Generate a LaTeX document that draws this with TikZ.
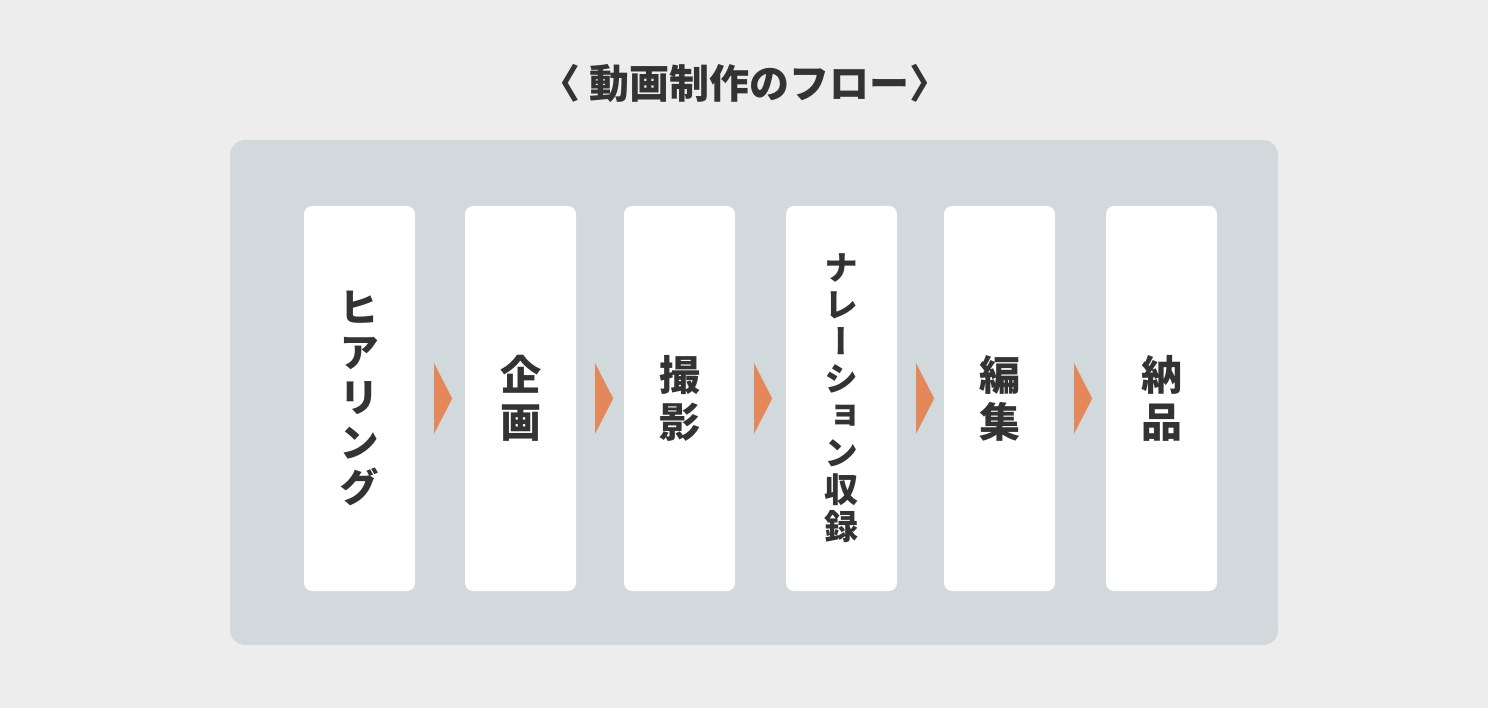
\documentclass[tikz,border=0pt]{standalone}
\usepackage{fontspec}
\newfontfamily\jpfont{Noto Sans CJK JP}
\newfontfamily\jpvert[RawFeature=+vert]{Noto Sans CJK JP}
\definecolor{pagegray}{HTML}{EDEDED}
\definecolor{panelgray}{HTML}{D1D9DC}
\definecolor{flowarrow}{HTML}{E4875A}
\definecolor{inkgray}{HTML}{333333}
\tikzset{
  stepcard/.style={fill=white, rounded corners=8pt, minimum width=111pt, minimum height=385pt,
    inner sep=0pt, align=center, text=inkgray, font=\jpvert\bfseries\fontsize{41pt}{47pt}\selectfont},
  kanacard/.style={stepcard, font=\jpvert\bfseries\fontsize{40pt}{45pt}\selectfont},
  smallcard/.style={stepcard, font=\jpvert\bfseries\fontsize{34pt}{37pt}\selectfont}
}
\begin{document}
\begin{tikzpicture}[x=1pt,y=-1pt]

\fill [pagegray] (0,0) rectangle (1488,708);
\useasboundingbox (0,0) rectangle (1488,708);

\node [text=inkgray, font=\jpfont\bfseries\fontsize{40pt}{48pt}\selectfont] (title) at (745,83) {〈 動画制作のフロー〉};

\fill [panelgray, rounded corners=15pt] (230,140) rectangle (1278,645);

\node [kanacard] (b1) at (359.5,398.5) {ヒ\\ア\\リ\\ン\\グ};
\node [stepcard] (b2) at (520.5,398.5) {企\\画};
\node [stepcard] (b3) at (679.5,398.5) {撮\\影};
\node [smallcard] (b4) at (841.5,398.5) {ナ\\レ\\ー\\シ\\ョ\\ン\\収\\録};
\node [stepcard] (b5) at (999.5,398.5) {編\\集};
\node [stepcard] (b6) at (1161.5,398.5) {納\\品};

\foreach \i in {1,...,5}
    \fill [flowarrow] ([xshift=19pt,yshift=35pt]b\i.east) -- ([xshift=37pt]b\i.east) -- ([xshift=19pt,yshift=-35pt]b\i.east) -- cycle;

\end{tikzpicture}
\end{document}
